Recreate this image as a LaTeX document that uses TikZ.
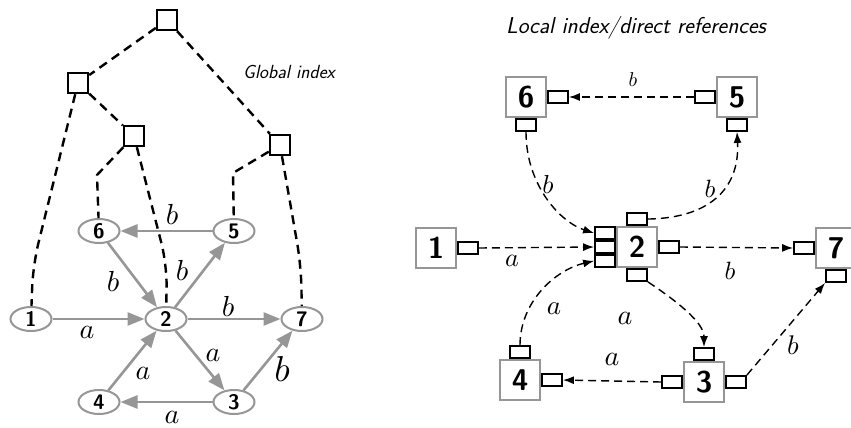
\documentclass[tikz,border=0pt]{standalone}
\usepackage{graphicx}
\usetikzlibrary{shapes.geometric,arrows.meta}
\definecolor{nodegray}{RGB}{150,150,150}
% edge letter, magnified from the 10pt math italic
\newcommand{\edgelbl}[2]{\scalebox{#1}{$#2$}}
\begin{document}
\begin{tikzpicture}[x=1pt,y=-1pt,
  treebox/.style={draw=black,line width=2.4pt,minimum size=20pt,inner sep=0pt},
  treeline/.style={black,line width=2.4pt,dash pattern=on 9pt off 6pt,rounded corners=22pt},
  ell/.style={ellipse,draw=nodegray,line width=2pt,minimum width=41pt,minimum height=24pt,inner sep=0pt,
    font=\fontsize{21}{21}\selectfont\sffamily\bfseries},
  garrow/.style={nodegray,line width=2.6pt,-{Triangle[length=17pt,width=13pt]}},
  lbl/.style={inner sep=0pt},
  sq/.style={draw=nodegray,line width=2pt,minimum size=40pt,inner sep=0pt,fill=white,
    font=\fontsize{30}{30}\selectfont\sffamily\bfseries},
  port/.style={draw=black,line width=1.9pt,minimum width=20pt,minimum height=12pt,inner sep=0pt,fill=white},
  ref/.style={black,line width=1.4pt,dash pattern=on 8pt off 5pt,-{Latex[length=11pt,width=8pt]}},
  title/.style={inner sep=0pt,font=\sffamily\slshape}]
\useasboundingbox (0,0) rectangle (851,428);

% ---------- global index: tree over the graph ----------
\node[treebox] (t1) at (167,20) {};
\node[treebox] (t2) at (78,83) {};
\node[treebox] (t3) at (134,136) {};
\node[treebox] (t4) at (280,145) {};

\node[ell] (n6) at (99,231) {6};
\node[ell] (n5) at (234,231) {5};
\node[ell] (n1) at (31,319) {1};
\node[ell] (n2) at (166,319) {2};
\node[ell] (n7) at (302,319) {7};
\node[ell] (n4) at (99,402) {4};
\node[ell] (n3) at (234,402) {3};

\coordinate (k1) at (33,265);
\coordinate (k6) at (97,175);
\coordinate (k2) at (167,265);
\coordinate (k5) at (233,173);
\coordinate (k7) at (301,265);

\draw[treeline] (t1) -- (t2);
\draw[treeline] (t1) -- (t4);
\draw[treeline] (t2) -- (t3);
\draw[treeline] (t2) -- (k1) -- (n1);
\draw[treeline,rounded corners=0pt] (t3) -- (k6) -- (n6);
\draw[treeline] (t3) -- (k2) -- (n2);
\draw[treeline,rounded corners=0pt] (t4) -- (k5) -- (n5);
\draw[treeline] (t4) -- (k7) -- (n7);

\node[title,font=\fontsize{19}{19}\selectfont\sffamily\slshape] (gtitle) at (289,72) {Global index};

% graph edges
\draw[garrow] (n1) -- (n2);
\draw[garrow] (n2) -- (n7);
\draw[garrow] (n5) -- (n6);
\draw[garrow] (n6) -- (n2);
\draw[garrow] (n2) -- (n5);
\draw[garrow] (n2) -- (n3);
\draw[garrow] (n4) -- (n2);
\draw[garrow] (n3) -- (n4);
\draw[garrow] (n3) -- (n7);

\node[lbl] (la12) at (87,332) {\edgelbl{2.8}{a}};
\node[lbl] (lb27) at (228,306) {\edgelbl{2.9}{b}};
\node[lbl] (lb56) at (172,214) {\edgelbl{2.9}{b}};
\node[lbl] (lb62) at (113,281) {\edgelbl{2.9}{b}};
\node[lbl] (lb25) at (182,270) {\edgelbl{2.9}{b}};
\node[lbl] (la23) at (213,355) {\edgelbl{2.8}{a}};
\node[lbl] (la42) at (143,373) {\edgelbl{2.8}{a}};
\node[lbl] (la34) at (172,417) {\edgelbl{2.8}{a}};
\node[lbl] (lb37) at (282,369) {\edgelbl{3.6}{b}};

% ---------- local index / direct references ----------
\node[title,font=\fontsize{23}{23}\selectfont\sffamily\slshape] (ltitle) at (636,28) {Local index/direct references};

\node[sq] (r6) at (526,97) {6};
\node[sq] (r5) at (737,97) {5};
\node[sq] (r1) at (436,248) {1};
\node[sq] (r2) at (637,247) {2};
\node[sq] (r7) at (836,248) {7};
\node[sq] (r4) at (520,380) {4};
\node[sq] (r3) at (704,382) {3};

\node[port,anchor=west]  (r6e) at (r6.east) {};
\node[port,anchor=north] (r6s) at (r6.south) {};
\node[port,anchor=east]  (r5w) at (r5.west) {};
\node[port,anchor=north] (r5s) at (r5.south) {};
\node[port,anchor=west]  (r1e) at (r1.east) {};
\node[port,anchor=south] (r2n) at (r2.north) {};
\node[port,anchor=north] (r2s) at (r2.south) {};
\node[port,anchor=west]  (r2e) at (r2.east) {};
\node[port,anchor=east]  (r2w2) at (r2.west) {};
\node[port,anchor=south] (r2w1) at (r2w2.north) {};
\node[port,anchor=north] (r2w3) at (r2w2.south) {};
\node[port,anchor=east]  (r7w) at (r7.west) {};
\node[port,anchor=north] (r7s) at (r7.south) {};
\node[port,anchor=south] (r4n) at (r4.north) {};
\node[port,anchor=west]  (r4e) at (r4.east) {};
\node[port,anchor=south] (r3n) at (r3.north) {};
\node[port,anchor=east]  (r3w) at (r3.west) {};
\node[port,anchor=west]  (r3e) at (r3.east) {};

\draw[ref] (r5w.west) -- (r6e.east);
\draw[ref] (r1e.east) -- (r2w2.west);
\draw[ref] (r2e.east) -- (r7w.west);
\draw[ref] (r3w.west) -- (r4e.east);
\draw[ref] (r3e.north east) -- (r7s.south west);
\draw[ref] (r6s.south) .. controls (526,185) and (560,222) .. (r2w1.west);
\draw[ref] (r2n.east) .. controls (708,218) and (740,190) .. (r5s.south);
\draw[ref] (r2s.south east) .. controls (675,300) and (704,322) .. (r3n.north);
\draw[ref] (r4n.north) .. controls (520,302) and (555,270) .. (r2w3.west);

\node[lbl] (rb56) at (633,80) {\edgelbl{2.0}{b}};
\node[lbl] (rb62) at (548,184) {\edgelbl{2.6}{b}};
\node[lbl] (rb25) at (710,189) {\edgelbl{2.5}{b}};
\node[lbl] (ra12) at (512,261) {\edgelbl{2.6}{a}};
\node[lbl] (rb27) at (730,271) {\edgelbl{2.5}{b}};
\node[lbl] (ra42) at (554,309) {\edgelbl{2.7}{a}};
\node[lbl] (ra23) at (625,318) {\edgelbl{2.8}{a}};
\node[lbl] (ra34) at (612,359) {\edgelbl{2.8}{a}};
\node[lbl] (rb37) at (793,345) {\edgelbl{2.7}{b}};
\end{tikzpicture}
\end{document}
